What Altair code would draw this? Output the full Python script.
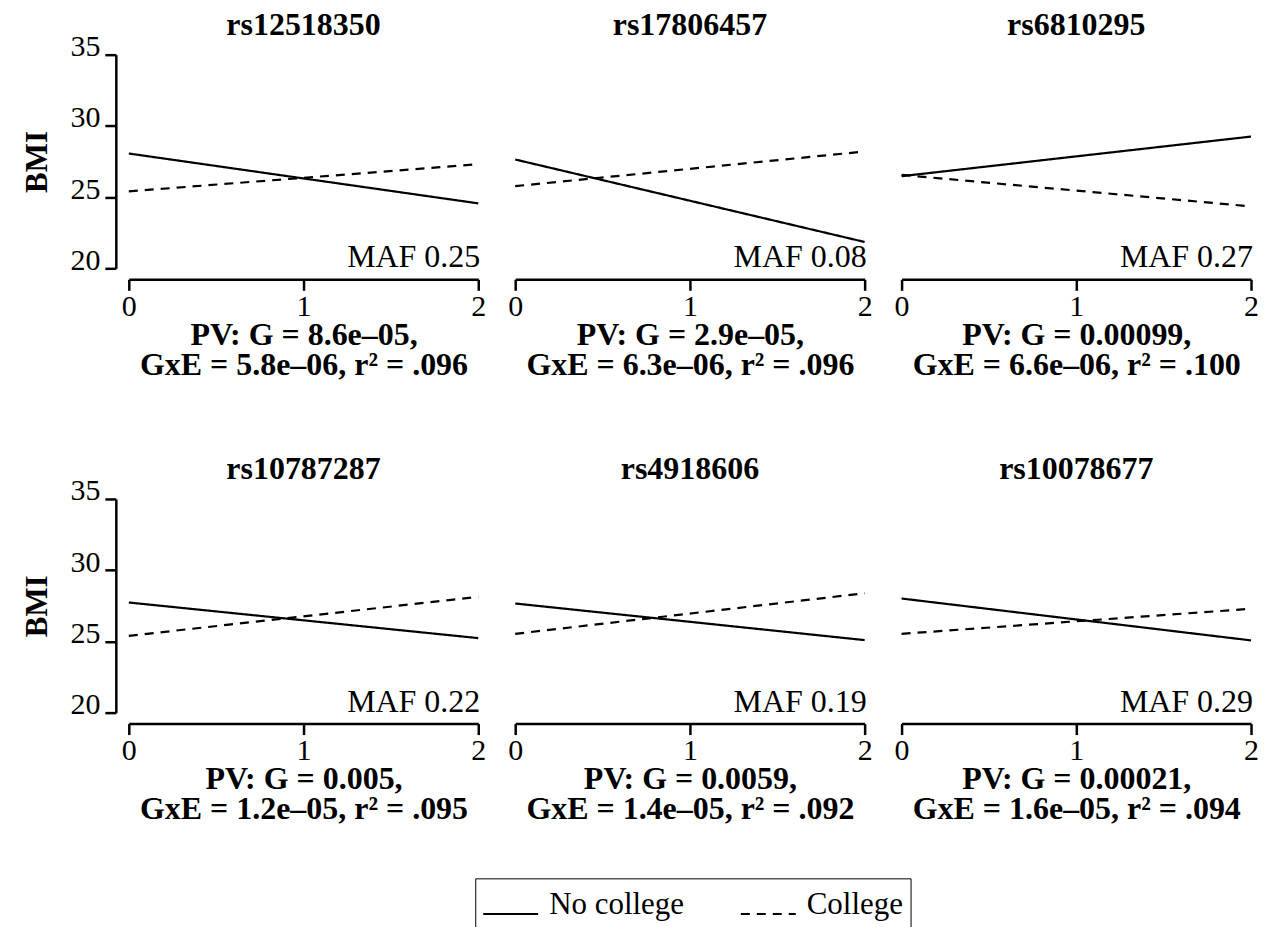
import altair as alt
import pandas as pd

FONT = "Liberation Serif"

snps = ["rs12518350", "rs17806457", "rs6810295", "rs10787287", "rs4918606", "rs10078677"]
maf = ["MAF 0.25", "MAF 0.08", "MAF 0.27", "MAF 0.22", "MAF 0.19", "MAF 0.29"]
pv_g = ["8.6e–05", "2.9e–05", "0.00099", "0.005", "0.0059", "0.00021"]
pv_gxe = ["5.8e–06", "6.3e–06", "6.6e–06", "1.2e–05", "1.4e–05", "1.6e–05"]
r2 = [".096", ".096", ".100", ".095", ".092", ".094"]

groups = ["No college", "College"]
genotype_ends = [0, 2]
bmi_ticks = [20, 25, 30, 35]
# BMI at genotype 0 and genotype 2
no_college_start = [28.06, 27.64, 26.47, 27.73, 27.66, 28.01]
no_college_end = [24.56, 21.85, 29.25, 25.23, 25.09, 25.07]
college_start = [25.40, 25.77, 26.56, 25.39, 25.53, 25.53]
college_end = [27.31, 28.20, 24.35, 28.13, 28.38, 27.29]

legend = alt.Legend(
    title=None, orient="none", legendX=347, legendY=825, direction="horizontal",
    symbolType="stroke", symbolSize=3025, symbolStrokeWidth=2, symbolStrokeColor="black",
    labelFont=FONT, labelFontSize=31, labelColor="black", labelBaseline="alphabetic",
    labelOffset=10, columnPadding=52, padding=7, strokeColor="black",
)


def panel(i):
    rows = []
    for g, s, e in [("No college", no_college_start[i], no_college_end[i]),
                    ("College", college_start[i], college_end[i])]:
        rows.append({"genotype": genotype_ends[0], "bmi": s, "group": g})
        rows.append({"genotype": genotype_ends[1], "bmi": e, "group": g})
    df = pd.DataFrame(rows)
    left = i % 3 == 0
    if left:
        yaxis = alt.Axis(
            values=bmi_ticks, title="BMI", offset=13, tickSize=11, tickWidth=2.5,
            domainWidth=2.5, domainColor="black", tickColor="black", grid=False,
            labelFont=FONT, labelFontSize=30, labelColor="black", labelPadding=5,
            labelBaseline="alphabetic", labelOffset=1,
            titleFont=FONT, titleFontSize=31, titleFontWeight="bold", titleColor="black",
            titlePadding=16,
        )
    else:
        yaxis = None
    xaxis = alt.Axis(
        tickCount=2, format="d", offset=11, tickSize=11, tickWidth=2.5,
        domainWidth=2.5, domainColor="black", tickColor="black", grid=False,
        labelFont=FONT, labelFontSize=30, labelColor="black", labelPadding=1,
        labelFlush=False, labelOverlap=False,
        title=[f"PV: G = {pv_g[i]},", f"GxE = {pv_gxe[i]}, r\u00b2 = {r2[i]}"],
        titleFont=FONT, titleFontSize=32, titleFontWeight="bold", titleColor="black",
        titleBaseline="top", titleLineHeight=30, titlePadding=-2,
    )
    lines = alt.Chart(df).mark_line(color="black", strokeWidth=2.2).encode(
        x=alt.X("genotype:Q", scale=alt.Scale(domain=[0, 2], nice=False, zero=False), axis=xaxis),
        y=alt.Y("bmi:Q", scale=alt.Scale(domain=[20, 35], nice=False, zero=False), axis=yaxis),
        strokeDash=alt.StrokeDash("group:N", sort=groups,
                                  scale=alt.Scale(domain=groups, range=[[1, 0], [9, 7]]),
                                  legend=legend),
    )
    txt = alt.Chart(pd.DataFrame({"label": [maf[i]]})).mark_text(
        font=FONT, fontSize=32, align="right", baseline="alphabetic", dx=2, dy=-1, color="black"
    ).encode(x=alt.value("width"), y=alt.value("height"), text="label:N")
    return alt.layer(lines, txt).properties(
        width=350, height=214,
        title=alt.TitleParams(text=snps[i], font=FONT, fontSize=32, fontWeight="bold",
                              color="black", anchor="middle",
                              offset=-10 if left else 13),
    )


row1 = alt.hconcat(*[panel(i) for i in range(3)], spacing=21)
row2 = alt.hconcat(*[panel(i) for i in range(3, 6)], spacing=21)
chart = alt.vconcat(row1, row2, spacing=73).properties(
    padding={"left": 14, "top": 0, "right": 5, "bottom": 5}
).configure(font=FONT).configure_view(stroke="transparent", strokeWidth=0)

chart.save("out.html", embed_options={"renderer": "svg", "actions": False})
